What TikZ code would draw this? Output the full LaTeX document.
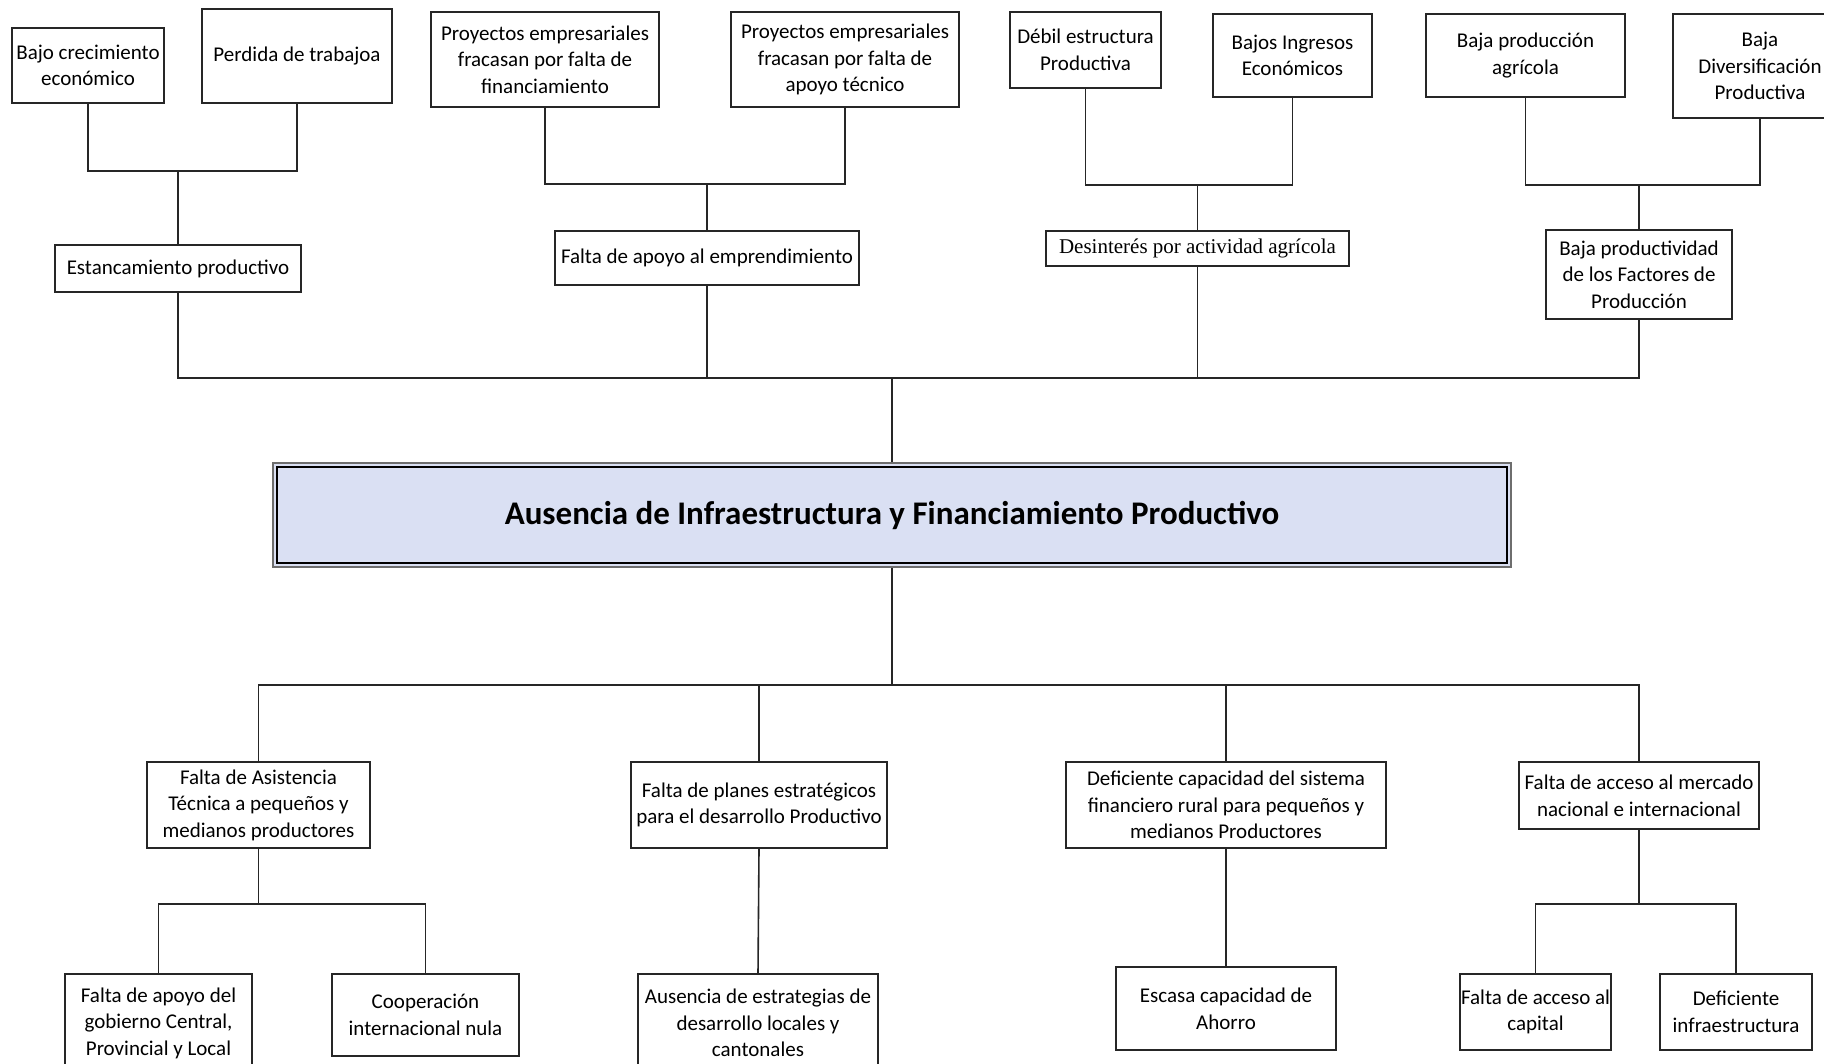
\documentclass[tikz,border=0pt]{standalone}
\usepackage{fontspec}
\setmainfont{Carlito}
\newfontfamily\timesfont{Liberation Serif}
\usepackage{tikz}
\usetikzlibrary{positioning}
\definecolor{arbol-line}{HTML}{262626}
\definecolor{arbol-frame}{HTML}{6E6E6E}
\definecolor{arbol-fill}{HTML}{DAE0F3}

\begin{document}
\begin{tikzpicture}[
    x=0.5pt, y=-0.5pt,             % one unit = one pixel of the sketch
    font=\fontsize{10.5}{13.3}\selectfont,
    line width=0.75pt, draw=arbol-line
  ]

  % Global Style Definitions
  \tikzset{
    sz/.style 2 args={minimum width=#1*0.5pt, minimum height=#2*0.5pt},
    caja/.style={draw=arbol-line, line width=0.7pt, fill=white, inner sep=0pt, align=center, text=black},
    problema/.style={draw=arbol-frame, line width=1pt, fill=arbol-fill, inner sep=0pt,
      font=\fontsize{16.5}{20}\selectfont\bfseries,
      path picture={\draw[black, line width=0.8pt]
        ([xshift=2pt,yshift=-2pt]path picture bounding box.north west) rectangle
        ([xshift=-2pt,yshift=2pt]path picture bounding box.south east);}},
    rama/.style={draw=arbol-line, line width=0.8pt}
  }

  \useasboundingbox (0,0) rectangle (1824,1064);

  % Central problem
  \node (problema) [problema, sz={1238}{104}] at (892,515) {Ausencia de Infraestructura y Financiamiento Productivo};

  % Upper effects
  \node (bajocrec) [caja, sz={152}{75}] at (88,65.5) {Bajo crecimiento\\económico};
  \node (perdida) [caja, sz={190}{94}] at (297,56) {Perdida de trabajoa};
  \node (proyfin) [caja, sz={228}{95}] at (545,59.5) {Proyectos empresariales\\fracasan por falta de\\financiamiento};
  \node (proytec) [caja, sz={228}{95}] at (845,59.5) {Proyectos empresariales\\fracasan por falta de\\apoyo técnico};
  \node (debil) [caja, sz={151}{76}] at (1085.5,50) {Débil estructura\\Productiva};
  \node (ingresos) [caja, sz={159}{83}] at (1292.5,55.5) {Bajos Ingresos\\Económicos};
  \node (bajaprod) [caja, sz={199}{83}] at (1525.5,55.5) {Baja producción\\agrícola};
  \node (diversif) [caja, sz={174}{104}] at (1760,66) {Baja\\Diversificación\\Productiva};

  \node (estanc) [caja, sz={246}{47}] at (178,268.5) {Estancamiento productivo};
  \node (apoyo) [caja, sz={304}{54}] at (707,258) {Falta de apoyo al emprendimiento};
  \node (desint) [caja, sz={303}{35}, font=\timesfont\fontsize{10.5}{13}\selectfont] at (1197.5,248.5) {Desinterés por actividad agrícola};
  \node (factores) [caja, sz={186}{89}] at (1639,274.5) {Baja productividad\\de los Factores de\\Producción};

  % Lower causes
  \node (asist) [caja, sz={223}{86}] at (258.5,805) {Falta de Asistencia\\Técnica a pequeños y\\medianos productores};
  \node (planes) [caja, sz={256}{86}] at (759,805) {Falta de planes estratégicos\\para el desarrollo Productivo};
  \node (sistema) [caja, sz={320}{86}] at (1226,805) {Deficiente capacidad del sistema\\financiero rural para pequeños y\\medianos Productores};
  \node (mercado) [caja, sz={240}{67}] at (1639,795.5) {Falta de acceso al mercado\\nacional e internacional};

  \node (gobierno) [caja, sz={187}{98}] at (158.5,1023) {Falta de apoyo del\\gobierno Central,\\Provincial y Local};
  \node (coop) [caja, sz={187}{82}] at (425.5,1015) {Cooperación\\internacional nula};
  \node (estrat) [caja, sz={240}{98}] at (758,1023) {Ausencia de estrategias de\\desarrollo locales y\\cantonales};
  \node (ahorro) [caja, sz={220}{83}] at (1226,1008.5) {Escasa capacidad de\\Ahorro};
  \node (capital) [caja, sz={151}{76}] at (1535.5,1012) {Falta de acceso al\\capital};
  \node (infra) [caja, sz={152}{76}] at (1736,1012) {Deficiente\\infraestructura};

  % Junction points
  \coordinate (j1) at (178,171);
  \coordinate (j2) at (707,184);
  \coordinate (j3) at (1197.5,185);
  \coordinate (j4) at (1639,185);
  \coordinate (jef) at (892,378);
  \coordinate (jca) at (892,685);
  \coordinate (j5) at (258.5,904);
  \coordinate (j6) at (1639,904);

  % Effects branches
  \draw[rama] (bajocrec.south) |- (j1) -| (perdida.south);
  \draw[rama] (j1) -- (estanc.north);
  \draw[rama] (proyfin.south) |- (j2) -| (proytec.south);
  \draw[rama] (j2) -- (apoyo.north);
  \draw[rama] (debil.south) |- (j3) -| (ingresos.south);
  \draw[rama] (j3) -- (desint.north);
  \draw[rama] (bajaprod.south) |- (j4) -| (diversif.south);
  \draw[rama] (j4) -- (factores.north);

  \draw[rama] (estanc.south) |- (jef) -| (factores.south);
  \draw[rama] (apoyo.south) -- (apoyo.south |- jef);
  \draw[rama] (desint.south) -- (desint.south |- jef);
  \draw[rama] (jef) -- (problema.north);

  % Causes branches
  \draw[rama] (problema.south) -- (jca);
  \draw[rama] (asist.north) |- (jca) -| (mercado.north);
  \draw[rama] (planes.north) -- (planes.north |- jca);
  \draw[rama] (sistema.north) -- (sistema.north |- jca);

  \draw[rama] (asist.south) -- (j5);
  \draw[rama] (gobierno.north) |- (j5) -| (coop.north);
  \draw[rama] (planes.south) -- (estrat.north);
  \draw[rama] (sistema.south) -- (ahorro.north);
  \draw[rama] (mercado.south) -- (j6);
  \draw[rama] (capital.north) |- (j6) -| (infra.north);

\end{tikzpicture}
\end{document}
